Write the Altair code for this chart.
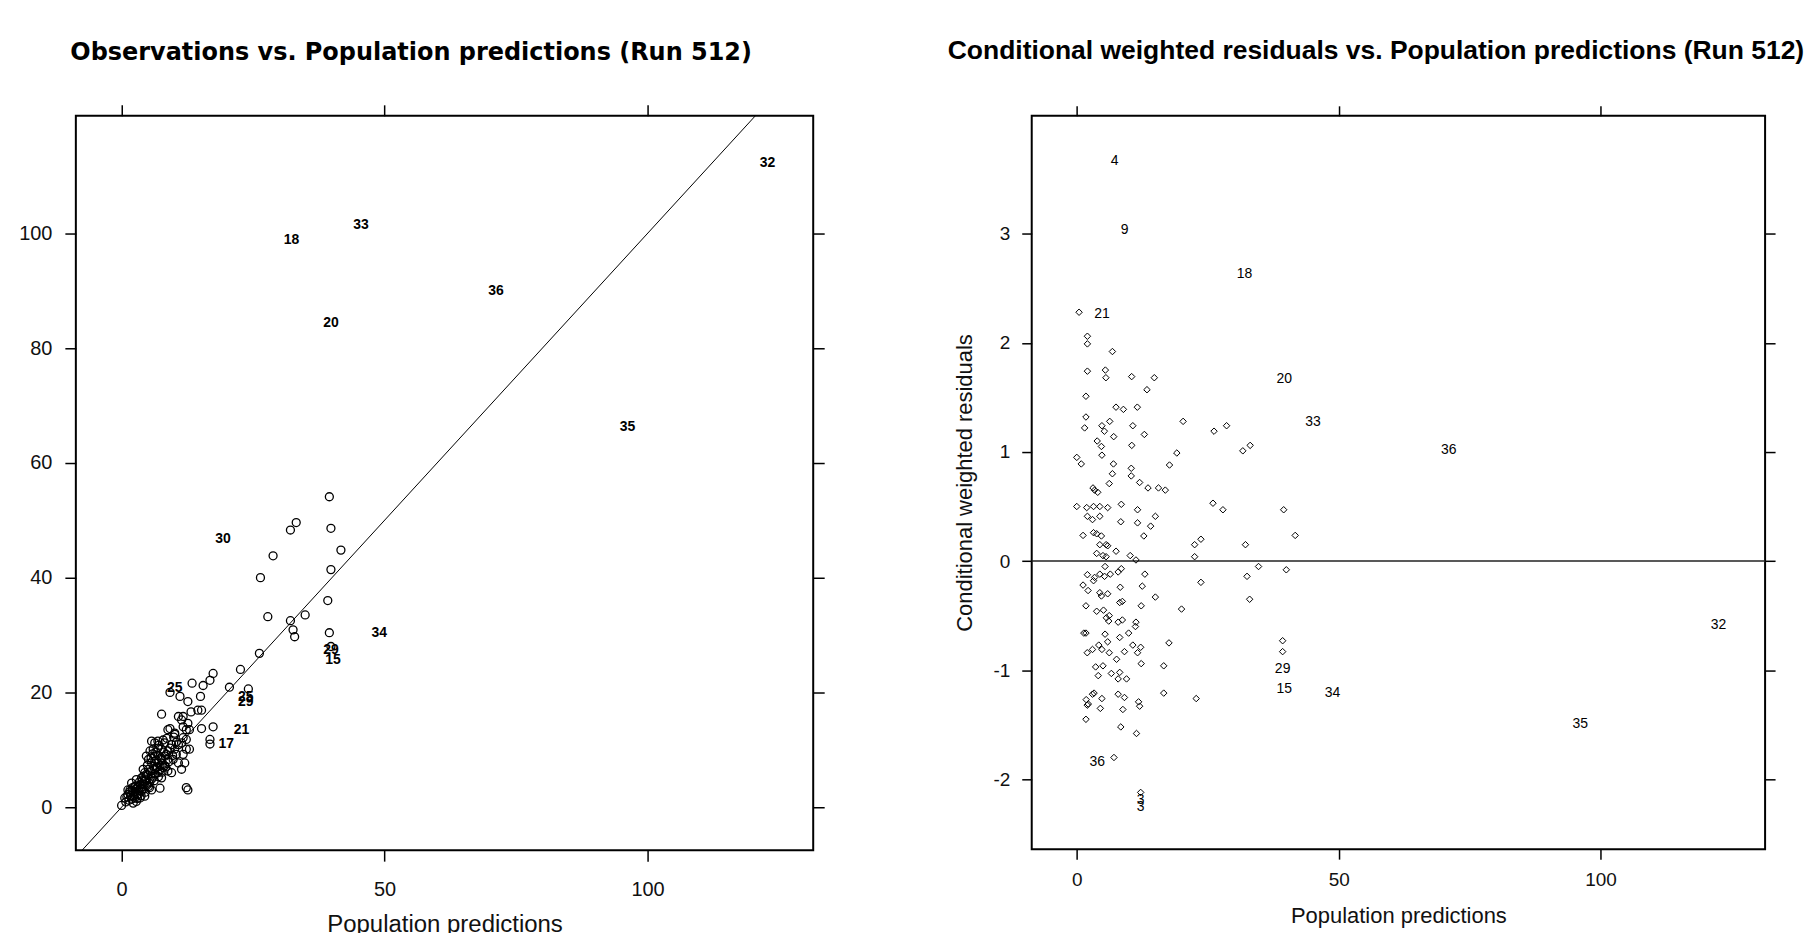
import altair as alt
import pandas as pd

FONT = "Liberation Sans"

# ---------------- Left panel: Observations vs. Population predictions ----------------
obs_pred = [
    39.5, 32.1, 33.2, 39.8, 41.7, 28.8, 26.4, 39.8, 39.2, 27.8, 32.1, 34.9, 32.6, 32.9, 39.5, 39.8,
    26.2, 22.6, 20.5, 24.1, 17.4, 16.8, 15.5, 13.4, 15.0, 12.6, 11.1, 7.6, 10.8, 11.4, 11.7, 9.2,
    10.1, 15.2, 17.4, 13.2, 14.5, 15.2, 11.7, 12.6, 12.9, 16.8, 16.8, 12.3, 9.2,
    0.0, 0.6, 1.2, 1.9, 2.5, 2.2, 1.6, 3.2, 2.8, 3.8, 4.1, 3.5, 2.5, 4.4, 5.1, 5.7, 5.4, 3.8, 4.7, 6.0,
    6.3, 5.1, 4.4, 6.9, 7.3, 6.9, 5.7, 5.1, 6.3, 7.6, 8.2, 8.8, 9.5, 8.5, 7.6, 6.0, 5.4, 4.7, 6.3, 8.2,
    6.9, 9.2, 10.1, 9.8, 10.4, 11.7, 12.3, 12.9, 12.0, 11.4, 10.8, 8.8, 10.1, 11.4, 11.7, 12.3, 10.8,
    12.3, 12.6, 4.1, 6.6, 2.8, 1.9, 1.2, 3.5, 2.8, 2.2, 4.4, 7.3, 6.3, 8.8, 7.6, 7.9, 8.8, 9.5, 6.9, 5.7,
    0.8, 1.0, 1.4, 1.7, 2.0, 2.3, 2.6, 2.9, 3.1, 3.3, 3.6, 3.9, 4.0, 4.3, 4.6, 4.8, 5.0, 5.2, 5.5, 5.8,
    6.1, 6.4, 6.6, 6.8, 7.0, 7.2, 7.5, 7.8, 8.0, 8.3, 5.9, 6.5, 7.1, 5.6, 4.9, 4.2, 3.4, 2.7, 2.1, 1.5,
    3.0, 3.7, 4.5, 5.3, 6.2, 7.0, 7.7, 8.4, 9.0, 9.7, 10.4, 9.9, 8.6, 7.9,
]
obs_dv = [
    54.1, 48.3, 49.6, 48.6, 44.8, 43.8, 40.0, 41.4, 36.0, 33.2, 32.5, 33.5, 30.9, 29.7, 30.4, 28.0,
    26.8, 24.0, 20.9, 20.6, 23.3, 22.1, 21.2, 21.6, 19.3, 18.4, 19.3, 16.2, 15.8, 15.2, 14.0, 13.7,
    12.9, 13.7, 14.0, 16.6, 16.9, 16.9, 15.8, 14.6, 13.5, 11.8, 11.0, 13.5, 20.0,
    0.3, 1.6, 2.2, 1.4, 1.6, 2.5, 3.0, 2.2, 3.2, 2.8, 3.6, 3.9, 3.6, 4.5, 3.6, 3.0, 4.5, 5.1, 5.7, 5.4,
    6.6, 6.6, 6.0, 6.0, 3.3, 7.7, 7.7, 8.3, 8.9, 8.3, 7.2, 6.3, 6.0, 9.2, 10.1, 10.1, 9.8, 8.9, 11.2, 11.2,
    10.3, 10.3, 10.1, 8.3, 9.2, 9.2, 10.1, 10.1, 7.7, 6.6, 7.7, 13.5, 12.7, 11.2, 12.1, 11.8, 10.9,
    3.4, 3.0, 6.6, 6.9, 4.8, 4.2, 3.0, 1.6, 1.0, 0.7, 1.9, 7.2, 8.0, 8.3, 5.1, 6.9, 9.8, 10.9, 11.5, 11.5,
    0.9, 1.8, 1.2, 2.0, 2.9, 1.9, 2.7, 2.1, 3.6, 2.9, 3.3, 4.6, 3.1, 4.0, 4.9, 3.8, 5.6, 4.2, 6.2, 5.0,
    7.1, 5.8, 8.2, 7.0, 9.0, 6.4, 8.6, 7.6, 9.6, 8.9, 9.3, 9.6, 10.8, 8.6, 7.3, 5.4, 4.4, 3.7, 3.4, 2.6,
    1.5, 2.0, 2.6, 3.4, 4.6, 5.3, 6.1, 7.0, 7.9, 9.0, 11.3, 12.2, 12.0, 11.7,
]
obs_lab_pred = [32.3, 45.5, 39.8, 71.2, 96.2, 122.8, 19.3, 49.0, 39.8, 40.2, 10.1, 23.6, 23.6, 22.8, 19.9]
obs_lab_dv = [98.8, 101.4, 84.3, 89.9, 66.3, 112.3, 46.8, 30.3, 27.3, 25.6, 20.8, 19.2, 18.3, 13.5, 11.0]
obs_lab_id = ["18", "33", "20", "36", "35", "32", "30", "34", "29", "15", "25", "25", "29", "21", "17"]
identity_x = [-20, 140]

# ---------------- Right panel: CWRES vs. Population predictions ----------------
cw_pred = [
    0.44, 2.03, 2.03, 6.8, 2.03, 5.46, 5.56, 10.48, 14.8, 13.4, 1.75, 7.49, 8.9, 11.56, 1.75, 1.5,
    4.8, 6.29, 5.27, 7.05, 10.7, 12.9, 20.3, 26.2, 28.6, 31.7, 33.1, 3.9, 4.7, 10.5, 19.1, 0.0,
    0.86, 4.8, 7.0, 10.4, 17.7, 6.8, 10.4, 6.2, 12.0, 13.6, 15.6, 16.9, 3.1, 3.4, 4.0, 26.0, 27.9,
    0.0, 1.9, 3.2, 4.4, 5.9, 8.5, 11.6, 39.5,
    2.03, 3.0, 4.4, 8.4, 11.6, 14.1, 15.0,
    1.2, 3.2, 3.8, 4.7, 12.8, 41.7,
    22.5, 23.7, 32.2, 4.4, 5.6, 5.9,
    3.8, 5.0, 5.6, 7.5, 10.2, 11.3, 22.5,
    5.4, 2.03, 3.4, 4.4, 5.3, 6.4, 7.9, 8.5, 13.0, 32.5, 34.7, 40.0,
    23.7, 1.2, 2.16, 3.2, 4.4, 4.7, 5.9, 8.3, 12.5,
    8.2, 8.7, 15.0, 33.0, 1.75, 5.1, 3.8, 12.3, 20.0,
    5.65, 6.2, 6.1, 7.9, 8.7, 11.3, 11.2,
    1.35, 1.75, 5.4, 9.9, 8.2, 5.9, 4.2, 10.7, 17.6, 39.3,
    2.0, 3.0, 4.8, 6.2, 9.1, 11.6, 12.2, 39.3,
    7.6, 12.3, 16.6, 3.6, 5.0, 4.1, 6.6, 8.2, 7.9, 9.5,
    1.8, 3.0, 3.3, 4.8, 7.9, 9.1, 11.8, 12.0, 16.6, 22.8,
    2.0, 2.2, 4.5, 8.8, 1.75, 8.4, 11.4, 7.1, 12.2,
]
cw_val = [
    2.28, 2.06, 1.99, 1.92, 1.74, 1.75, 1.68, 1.69, 1.68, 1.57, 1.51, 1.41, 1.39, 1.41, 1.32, 1.22,
    1.24, 1.28, 1.19, 1.14, 1.24, 1.16, 1.28, 1.19, 1.24, 1.01, 1.06, 1.10, 1.05, 1.06, 0.99, 0.95,
    0.89, 0.97, 0.89, 0.85, 0.88, 0.80, 0.78, 0.71, 0.72, 0.67, 0.67, 0.65, 0.67, 0.65, 0.63, 0.53, 0.47,
    0.50, 0.49, 0.50, 0.50, 0.49, 0.52, 0.47, 0.47,
    0.41, 0.38, 0.41, 0.36, 0.35, 0.32, 0.41,
    0.235, 0.26, 0.25, 0.23, 0.23, 0.235,
    0.15, 0.20, 0.15, 0.15, 0.15, 0.14,
    0.07, 0.05, 0.04, 0.09, 0.05, 0.01, 0.04,
    -0.05, -0.125, -0.15, -0.12, -0.14, -0.12, -0.10, -0.07, -0.12, -0.14, -0.05, -0.08,
    -0.195, -0.22, -0.27, -0.18, -0.29, -0.32, -0.30, -0.24, -0.23,
    -0.38, -0.37, -0.33, -0.35, -0.41, -0.45, -0.46, -0.41, -0.44,
    -0.52, -0.50, -0.55, -0.56, -0.54, -0.56, -0.60,
    -0.66, -0.66, -0.67, -0.66, -0.70, -0.74, -0.77, -0.77, -0.75, -0.73,
    -0.84, -0.81, -0.81, -0.84, -0.83, -0.84, -0.79, -0.83,
    -0.90, -0.94, -0.96, -0.97, -0.96, -1.05, -1.03, -1.02, -1.08, -1.08,
    -1.27, -1.22, -1.21, -1.26, -1.22, -1.25, -1.29, -1.33, -1.21, -1.26,
    -1.32, -1.31, -1.35, -1.36, -1.45, -1.52, -1.58, -1.80, -2.12,
]
cw_lab_pred = [7.24, 9.14, 32.0, 4.8, 39.6, 45.1, 71.0, 122.5, 96.1, 39.3, 39.6, 48.8, 3.9, 12.2, 12.2]
cw_lab_val = [3.67, 3.03, 2.63, 2.26, 1.67, 1.27, 1.02, -0.59, -1.49, -0.99, -1.17, -1.21, -1.84, -2.19, -2.25]
cw_lab_id = ["4", "9", "18", "21", "20", "33", "36", "32", "35", "29", "15", "34", "36", "3", "3"]
zero_ref = [0]

left_x_ticks = [0, 50, 100]
left_y_ticks = [0, 20, 40, 60, 80, 100]
right_x_ticks = [0, 50, 100]
right_y_ticks = [-2, -1, 0, 1, 2, 3]

HYPHEN = "replace(datum.label, '\u2212', '-')"


def main_axis(orient, values, tick, lsize, lpad, tsize, tpad):
    return alt.Axis(orient=orient, values=values, domain=False, ticks=True, tickSize=tick,
                    tickWidth=1.5, tickColor="black", grid=False, labelFont=FONT,
                    labelFontSize=lsize, labelColor="#111", labelPadding=lpad,
                    labelFlush=False, labelOverlap=False, labelExpr=HYPHEN, titleFont=FONT,
                    titleFontSize=tsize, titleFontWeight="normal", titleColor="#111",
                    titlePadding=tpad)


def frame_axis(orient, values, tick):
    return alt.Axis(orient=orient, values=values, domain=False, ticks=True, tickSize=tick,
                    tickWidth=1.5, tickColor="black", grid=False, labels=False)


# ---- left panel ----
df_obs = pd.DataFrame({"pred": obs_pred, "dv": obs_dv})
df_obs_lab = pd.DataFrame({"pred": obs_lab_pred, "dv": obs_lab_dv, "id": obs_lab_id})
df_ident = pd.DataFrame({"pred": identity_x, "dv": identity_x})

lxs = alt.Scale(domain=[-8.7, 131.5], nice=False, zero=False)
lys = alt.Scale(domain=[-7.5, 120.5], nice=False, zero=False)
X1 = alt.X("pred:Q", scale=lxs, title="Population predictions",
           axis=main_axis("bottom", left_x_ticks, 11, 20, 18, 24, 14))
Y1 = alt.Y("dv:Q", scale=lys, title="",
           axis=main_axis("left", left_y_ticks, 11, 20, 13, 20, 10))

pts1 = alt.Chart(df_obs).mark_point(shape="circle", filled=False, size=64, strokeWidth=1.3,
                                    color="black", opacity=1).encode(x=X1, y=Y1)
lab1 = alt.Chart(df_obs_lab).mark_text(font=FONT, fontSize=14, fontWeight="bold", color="black",
                                       align="center", baseline="middle").encode(x=X1, y=Y1, text="id:N")
line1 = alt.Chart(df_ident).mark_line(color="black", strokeWidth=1, clip=True).encode(x=X1, y=Y1)
frame1 = alt.Chart(df_obs).mark_point(opacity=0).encode(
    x=alt.X("pred:Q", scale=lxs, title="", axis=frame_axis("top", left_x_ticks, 11)),
    y=alt.Y("dv:Q", scale=lys, title="", axis=frame_axis("right", left_y_ticks, 11)),
)
left = alt.layer(alt.layer(line1, pts1, lab1), frame1).resolve_axis(
    x="independent", y="independent").properties(
    width=739, height=736,
    title=alt.TitleParams(text="Observations vs. Population predictions (Run 512)",
                          font="DejaVu Sans", fontSize=24, fontWeight="bold", color="black",
                          anchor="middle", frame="group", dx=-33.5, offset=20,
                          baseline="alphabetic"))

# ---- right panel ----
df_cw = pd.DataFrame({"pred": cw_pred, "cwres": cw_val})
df_cw_lab = pd.DataFrame({"pred": cw_lab_pred, "cwres": cw_lab_val, "id": cw_lab_id})
df_zero = pd.DataFrame({"cwres": zero_ref})

rxs = alt.Scale(domain=[-8.6, 131.4], nice=False, zero=False)
rys = alt.Scale(domain=[-2.64, 4.08], nice=False, zero=False)
X2 = alt.X("pred:Q", scale=rxs, title="Population predictions",
           axis=main_axis("bottom", right_x_ticks, 10, 19, 11.5, 22, 16))
Y2 = alt.Y("cwres:Q", scale=rys, title="Conditional weighted residuals",
           axis=main_axis("left", right_y_ticks, 10, 19, 12, 22, 16))

pts2 = alt.Chart(df_cw).mark_point(shape="diamond", filled=False, size=42, strokeWidth=1,
                                   color="black", opacity=1).encode(x=X2, y=Y2)
lab2 = alt.Chart(df_cw_lab).mark_text(font=FONT, fontSize=14, color="black",
                                      align="center", baseline="middle").encode(x=X2, y=Y2, text="id:N")
zero2 = alt.Chart(df_zero).mark_rule(color="#222", strokeWidth=1.5).encode(y=Y2)
frame2 = alt.Chart(df_cw).mark_point(opacity=0).encode(
    x=alt.X("pred:Q", scale=rxs, title="", axis=frame_axis("top", right_x_ticks, 10)),
    y=alt.Y("cwres:Q", scale=rys, title="", axis=frame_axis("right", right_y_ticks, 10)),
)
right = alt.layer(alt.layer(zero2, pts2, lab2), frame2).resolve_axis(
    x="independent", y="independent").properties(
    width=735, height=735,
    title=alt.TitleParams(text="Conditional weighted residuals vs. Population predictions (Run 512)",
                          font=FONT, fontSize=26.5, fontWeight="bold", color="black",
                          anchor="middle", frame="group", dx=-22.5, offset=19.2,
                          baseline="alphabetic"))

chart = alt.hconcat(left, right, spacing=219, bounds="flush").properties(
    padding={"left": 9, "top": 28, "right": 0, "bottom": 0}
).configure_view(stroke="black", strokeWidth=2)

chart.save("out.html", embed_options={"renderer": "svg", "actions": False})
